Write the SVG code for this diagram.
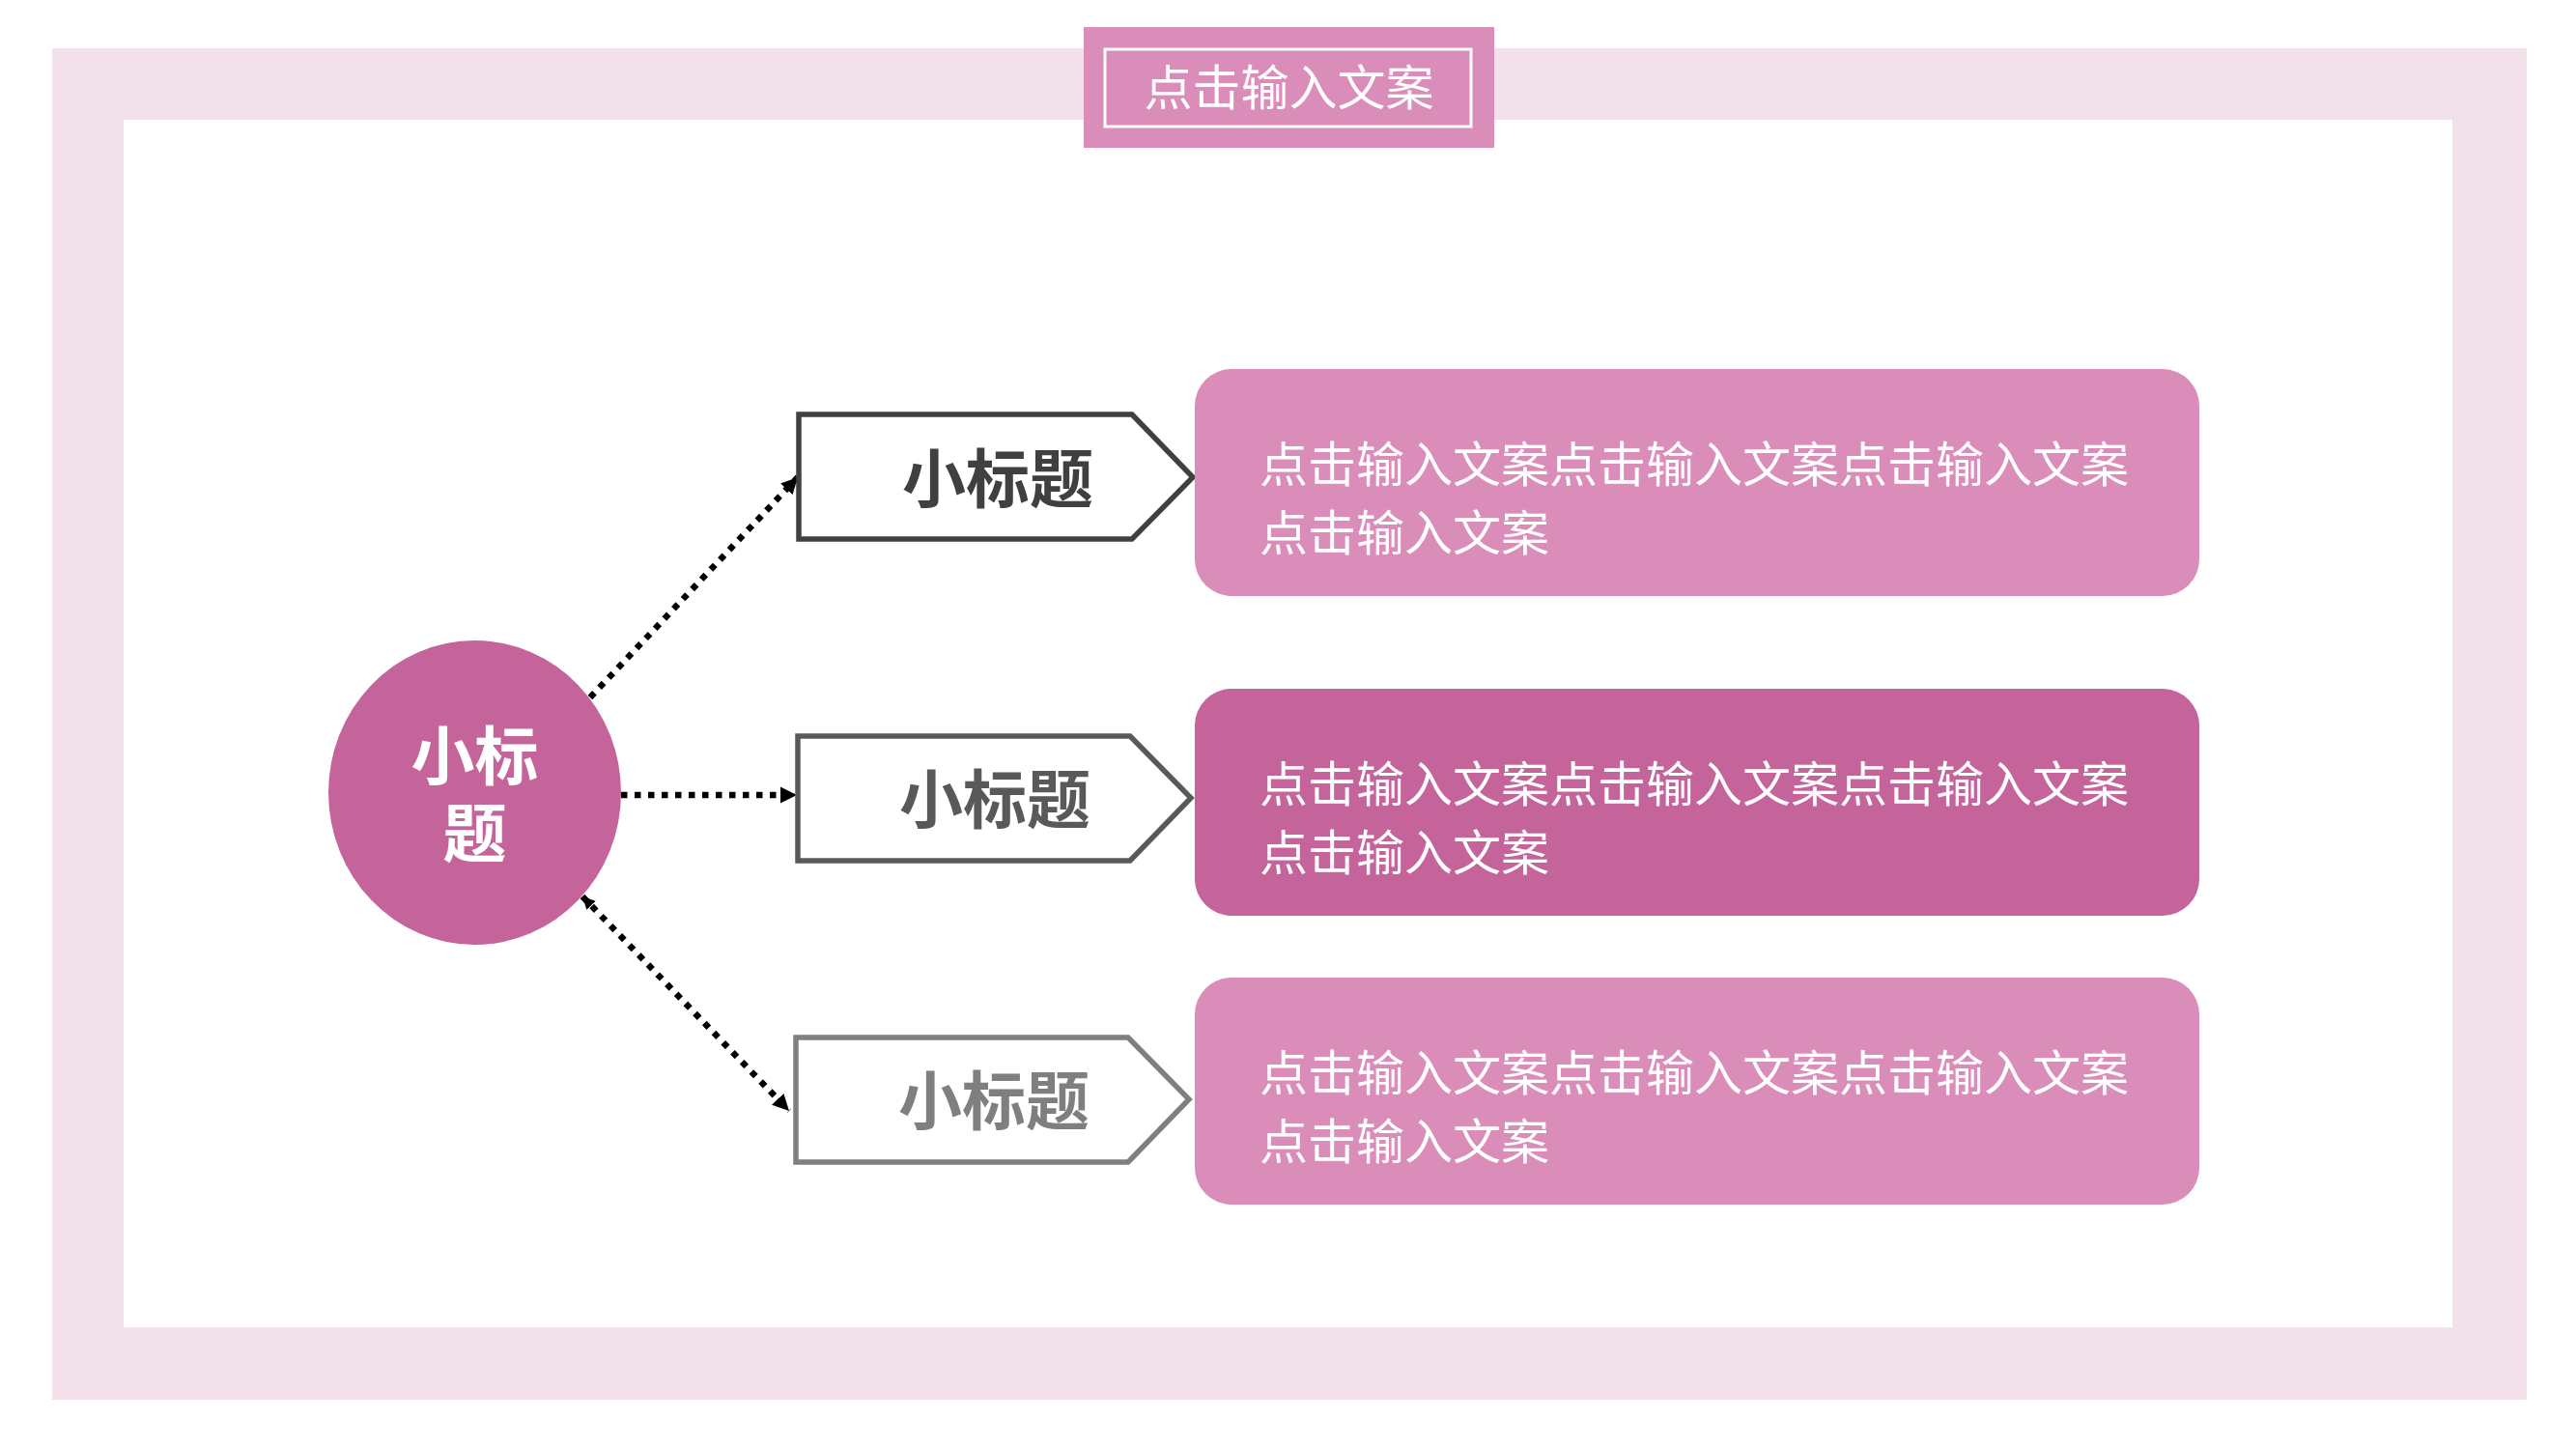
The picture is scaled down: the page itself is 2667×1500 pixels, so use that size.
<svg xmlns="http://www.w3.org/2000/svg" width="2667" height="1500" viewBox="0 0 2667 1500">
<defs>
<style>
.cjk{font-family:"Noto Sans CJK SC","Noto Sans",sans-serif}
.body{font-size:50px;fill:#FFFFFF}
.head{font-size:66px;font-weight:700;text-anchor:middle}
.conn{fill:none;stroke:#000000;stroke-width:6.5;stroke-dasharray:6.5 7.5}
.tag{fill:#FFFFFF;stroke-width:5.5}
.pill-light{fill:#DB8DBA}
.pill-dark{fill:#C4649A}
</style>
<marker id="arr" viewBox="0 0 10 10" refX="10" refY="5" markerWidth="17" markerHeight="20" markerUnits="userSpaceOnUse" orient="auto">
<path d="M0,0 L10,5 L0,10 Z" fill="#000000"/>
</marker>
<marker id="arrS" viewBox="0 0 10 10" refX="10" refY="5" markerWidth="13" markerHeight="14" markerUnits="userSpaceOnUse" orient="auto-start-reverse">
<path d="M0,0 L10,5 L0,10 Z" fill="#000000"/>
</marker>
</defs>
<rect x="0" y="0" width="2667" height="1500" fill="#FFFFFF"/>
<g id="frame">
<rect x="54" y="50" width="2562" height="1399" fill="#F2E0EB"/>
<rect x="128" y="124" width="2411" height="1250" fill="#FFFFFF"/>
</g>
<g id="title">
<rect x="1122" y="28" width="425" height="125" fill="#DB8DBA"/>
<rect x="1144" y="51" width="379" height="80" fill="none" stroke="#FFFFFF" stroke-width="3"/>
<text class="cjk" x="1334.5" y="87" font-size="50" fill="#FFFFFF" text-anchor="middle" dominant-baseline="central">点击输入文案</text>
</g>
<g id="connectors">
<line class="conn" x1="611" y1="722" x2="826" y2="494" marker-end="url(#arr)"/>
<line class="conn" x1="643" y1="823" x2="825" y2="823" marker-end="url(#arr)"/>
<line class="conn" x1="603" y1="928" x2="817" y2="1150" marker-start="url(#arrS)" marker-end="url(#arr)"/>
</g>
<g id="center">
<ellipse cx="491.5" cy="820.5" rx="151.5" ry="157.5" fill="#C4649A"/>
<text class="cjk head" fill="#FFFFFF" dominant-baseline="central"><tspan x="491.5" y="778">小标</tspan><tspan x="491.5" y="858">题</tspan></text>
</g>
<g id="tag1">
<polygon class="tag" points="827,429 1172,429 1235,494 1172,558 827,558" stroke="#404040"/>
<text class="cjk head" x="1033" y="491" fill="#404040" dominant-baseline="central">小标题</text>
</g>
<g id="tag2">
<polygon class="tag" points="826,762 1170,762 1233,826 1170,891 826,891" stroke="#595959"/>
<text class="cjk head" x="1030" y="823" fill="#595959" dominant-baseline="central">小标题</text>
</g>
<g id="tag3">
<polygon class="tag" points="824,1074 1168,1074 1231,1138 1168,1203 824,1203" stroke="#7F7F7F"/>
<text class="cjk head" x="1029" y="1135" fill="#7F7F7F" dominant-baseline="central">小标题</text>
</g>
<g id="box1">
<rect class="pill-light" x="1237" y="382" width="1040" height="235" rx="38" ry="38"/>
<text class="cjk body" x="1304" y="477" dominant-baseline="central">点击输入文案点击输入文案点击输入文案</text>
<text class="cjk body" x="1304" y="548" dominant-baseline="central">点击输入文案</text>
</g>
<g id="box2">
<rect class="pill-dark" x="1237" y="713" width="1040" height="235" rx="38" ry="38"/>
<text class="cjk body" x="1304" y="808" dominant-baseline="central">点击输入文案点击输入文案点击输入文案</text>
<text class="cjk body" x="1304" y="879" dominant-baseline="central">点击输入文案</text>
</g>
<g id="box3">
<rect class="pill-light" x="1237" y="1012" width="1040" height="235" rx="38" ry="38"/>
<text class="cjk body" x="1304" y="1107" dominant-baseline="central">点击输入文案点击输入文案点击输入文案</text>
<text class="cjk body" x="1304" y="1178" dominant-baseline="central">点击输入文案</text>
</g>
</svg>
